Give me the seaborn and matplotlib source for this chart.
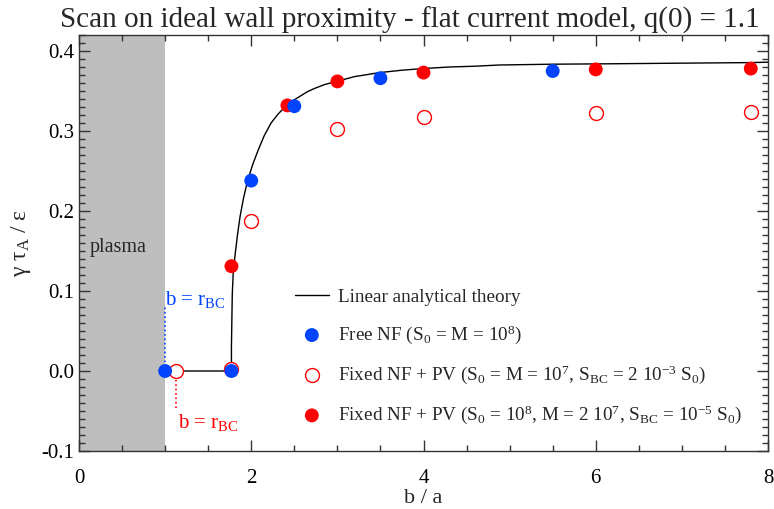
import matplotlib
matplotlib.use("Agg")
import matplotlib.pyplot as plt
from matplotlib.ticker import MultipleLocator
import seaborn as sns
import pandas as pd

# theory curve
theory_x = [1.0, 1.77, 1.77, 1.775, 1.78, 1.79, 1.81, 1.84, 1.87, 1.91, 1.96, 2.02,
            2.08, 2.15, 2.23, 2.31, 2.39, 2.47, 2.56, 2.65, 2.73, 2.85, 2.99, 3.2,
            3.49, 3.75, 3.99, 4.3, 4.6, 4.88, 5.5, 6.15, 7.0, 7.8, 8.0]
theory_y = [0.0, 0.0, 0.030, 0.065, 0.097, 0.121, 0.143, 0.170, 0.193, 0.216, 0.239, 0.259,
            0.276, 0.294, 0.310, 0.321, 0.330, 0.337, 0.343, 0.349, 0.353, 0.358, 0.362, 0.368,
            0.373, 0.376, 0.378, 0.380, 0.381, 0.3825, 0.3835, 0.384, 0.3848, 0.3855, 0.386]

# Free NF (S0 = M = 1e8)
free_x = [1.0, 1.77, 2.0, 2.5, 3.5, 5.5]
free_y = [0.0, 0.0, 0.238, 0.331, 0.366, 0.375]

# Fixed NF + PV (S0 = M = 1e7)
open_x = [1.13, 1.77, 2.0, 3.0, 4.0, 6.0, 7.8]
open_y = [0.0, 0.003, 0.187, 0.302, 0.318, 0.323, 0.324]

# Fixed NF + PV (S0 = 1e8, M = 2e7)
fill_x = [1.77, 2.42, 3.0, 4.0, 6.0, 7.8]
fill_y = [0.131, 0.332, 0.362, 0.373, 0.377, 0.378]

BLUE = "#0044ff"
RED = "#ff0000"

sns.set_theme(style="ticks")
plt.rcParams["font.family"] = ["Liberation Serif", "DejaVu Serif"]
plt.rcParams["mathtext.fontset"] = "custom"
plt.rcParams["mathtext.rm"] = "Liberation Serif"
plt.rcParams["mathtext.it"] = "Liberation Serif"

fig = plt.figure(figsize=(7.74, 5.09), dpi=100)
ax = fig.add_axes([79 / 774, 1 - 451 / 509, 689 / 774, 416 / 509])

# plasma region
ax.axvspan(0, 1, color="#bebebe", lw=0, zorder=0)
ax.text(0.12, 0.154, "plasma", fontsize=14.5, va="center", ha="left")

df_th = pd.DataFrame({"x": theory_x, "y": theory_y})
sns.lineplot(data=df_th, x="x", y="y", sort=False, estimator=None, color="black",
             lw=1.0, ax=ax, label="Linear analytical theory", zorder=2)

sns.scatterplot(x=free_x, y=free_y, color=BLUE, s=100, edgecolor="none", ax=ax,
                label=r"Free NF (S$_0$ = M = 10$^8$)", zorder=4)
ax.scatter(open_x, open_y, s=100, facecolors="white", edgecolors=RED, linewidths=1.0,
           label=r"Fixed NF + PV (S$_0$ = M = 10$^7$, S$_{\rm BC}$ = 2 10$^{-3}$ S$_0$)", zorder=3)
sns.scatterplot(x=fill_x, y=fill_y, color=RED, s=100, edgecolor="none", ax=ax,
                label=r"Fixed NF + PV (S$_0$ = 10$^8$, M = 2 10$^7$, S$_{\rm BC}$ = 10$^{-5}$ S$_0$)",
                zorder=3)

# b = r_BC markers
ax.plot([1.0, 1.0], [0.0, 0.083], ls=":", color=BLUE, lw=1.2, zorder=1)
ax.text(1.0, 0.089, r"b = r$_{\rm BC}$", color=BLUE, fontsize=15, va="center", ha="left")
ax.plot([1.13, 1.13], [0.0, -0.049], ls=":", color=RED, lw=1.2, zorder=1)
ax.text(1.15, -0.064, r"b = r$_{\rm BC}$", color=RED, fontsize=15, va="center", ha="left")

ax.set_xlim(0, 8)
ax.set_ylim(-0.1, 0.42)
ax.xaxis.set_major_locator(MultipleLocator(2))
ax.xaxis.set_minor_locator(MultipleLocator(0.5))
ax.yaxis.set_major_locator(MultipleLocator(0.1))
ax.yaxis.set_minor_locator(MultipleLocator(0.01))
ax.yaxis.set_major_formatter(plt.FuncFormatter(lambda v, p: f"{v:.1f}"))
ax.tick_params(which="both", direction="in", top=True, right=True, colors="#333333",
               labelcolor="black", labelsize=15)
ax.tick_params(which="major", length=8, width=1)
ax.tick_params(which="minor", length=4, width=1)
ax.tick_params(axis="x", which="major", pad=13)
for s in ax.spines.values():
    s.set_linewidth(1.0)
    s.set_color("#333333")

ax.set_xlabel("b / a", fontsize=16, labelpad=1)
ax.set_ylabel(r"γ τ$_{\rm A}$ / ε", fontsize=17, labelpad=6)
ax.set_title("Scan on ideal wall proximity - flat current model, q(0) = 1.1",
             fontsize=21, pad=5, x=(410 - 79) / 689)

ax.legend(loc="upper left", bbox_to_anchor=(285 / 774, 1 - 279 / 509),
          bbox_transform=fig.transFigure, frameon=False, fontsize=13.8,
          handlelength=1.8, handletextpad=0.45, labelspacing=0.92, borderpad=0)

fig.savefig("out.png", dpi=100)
